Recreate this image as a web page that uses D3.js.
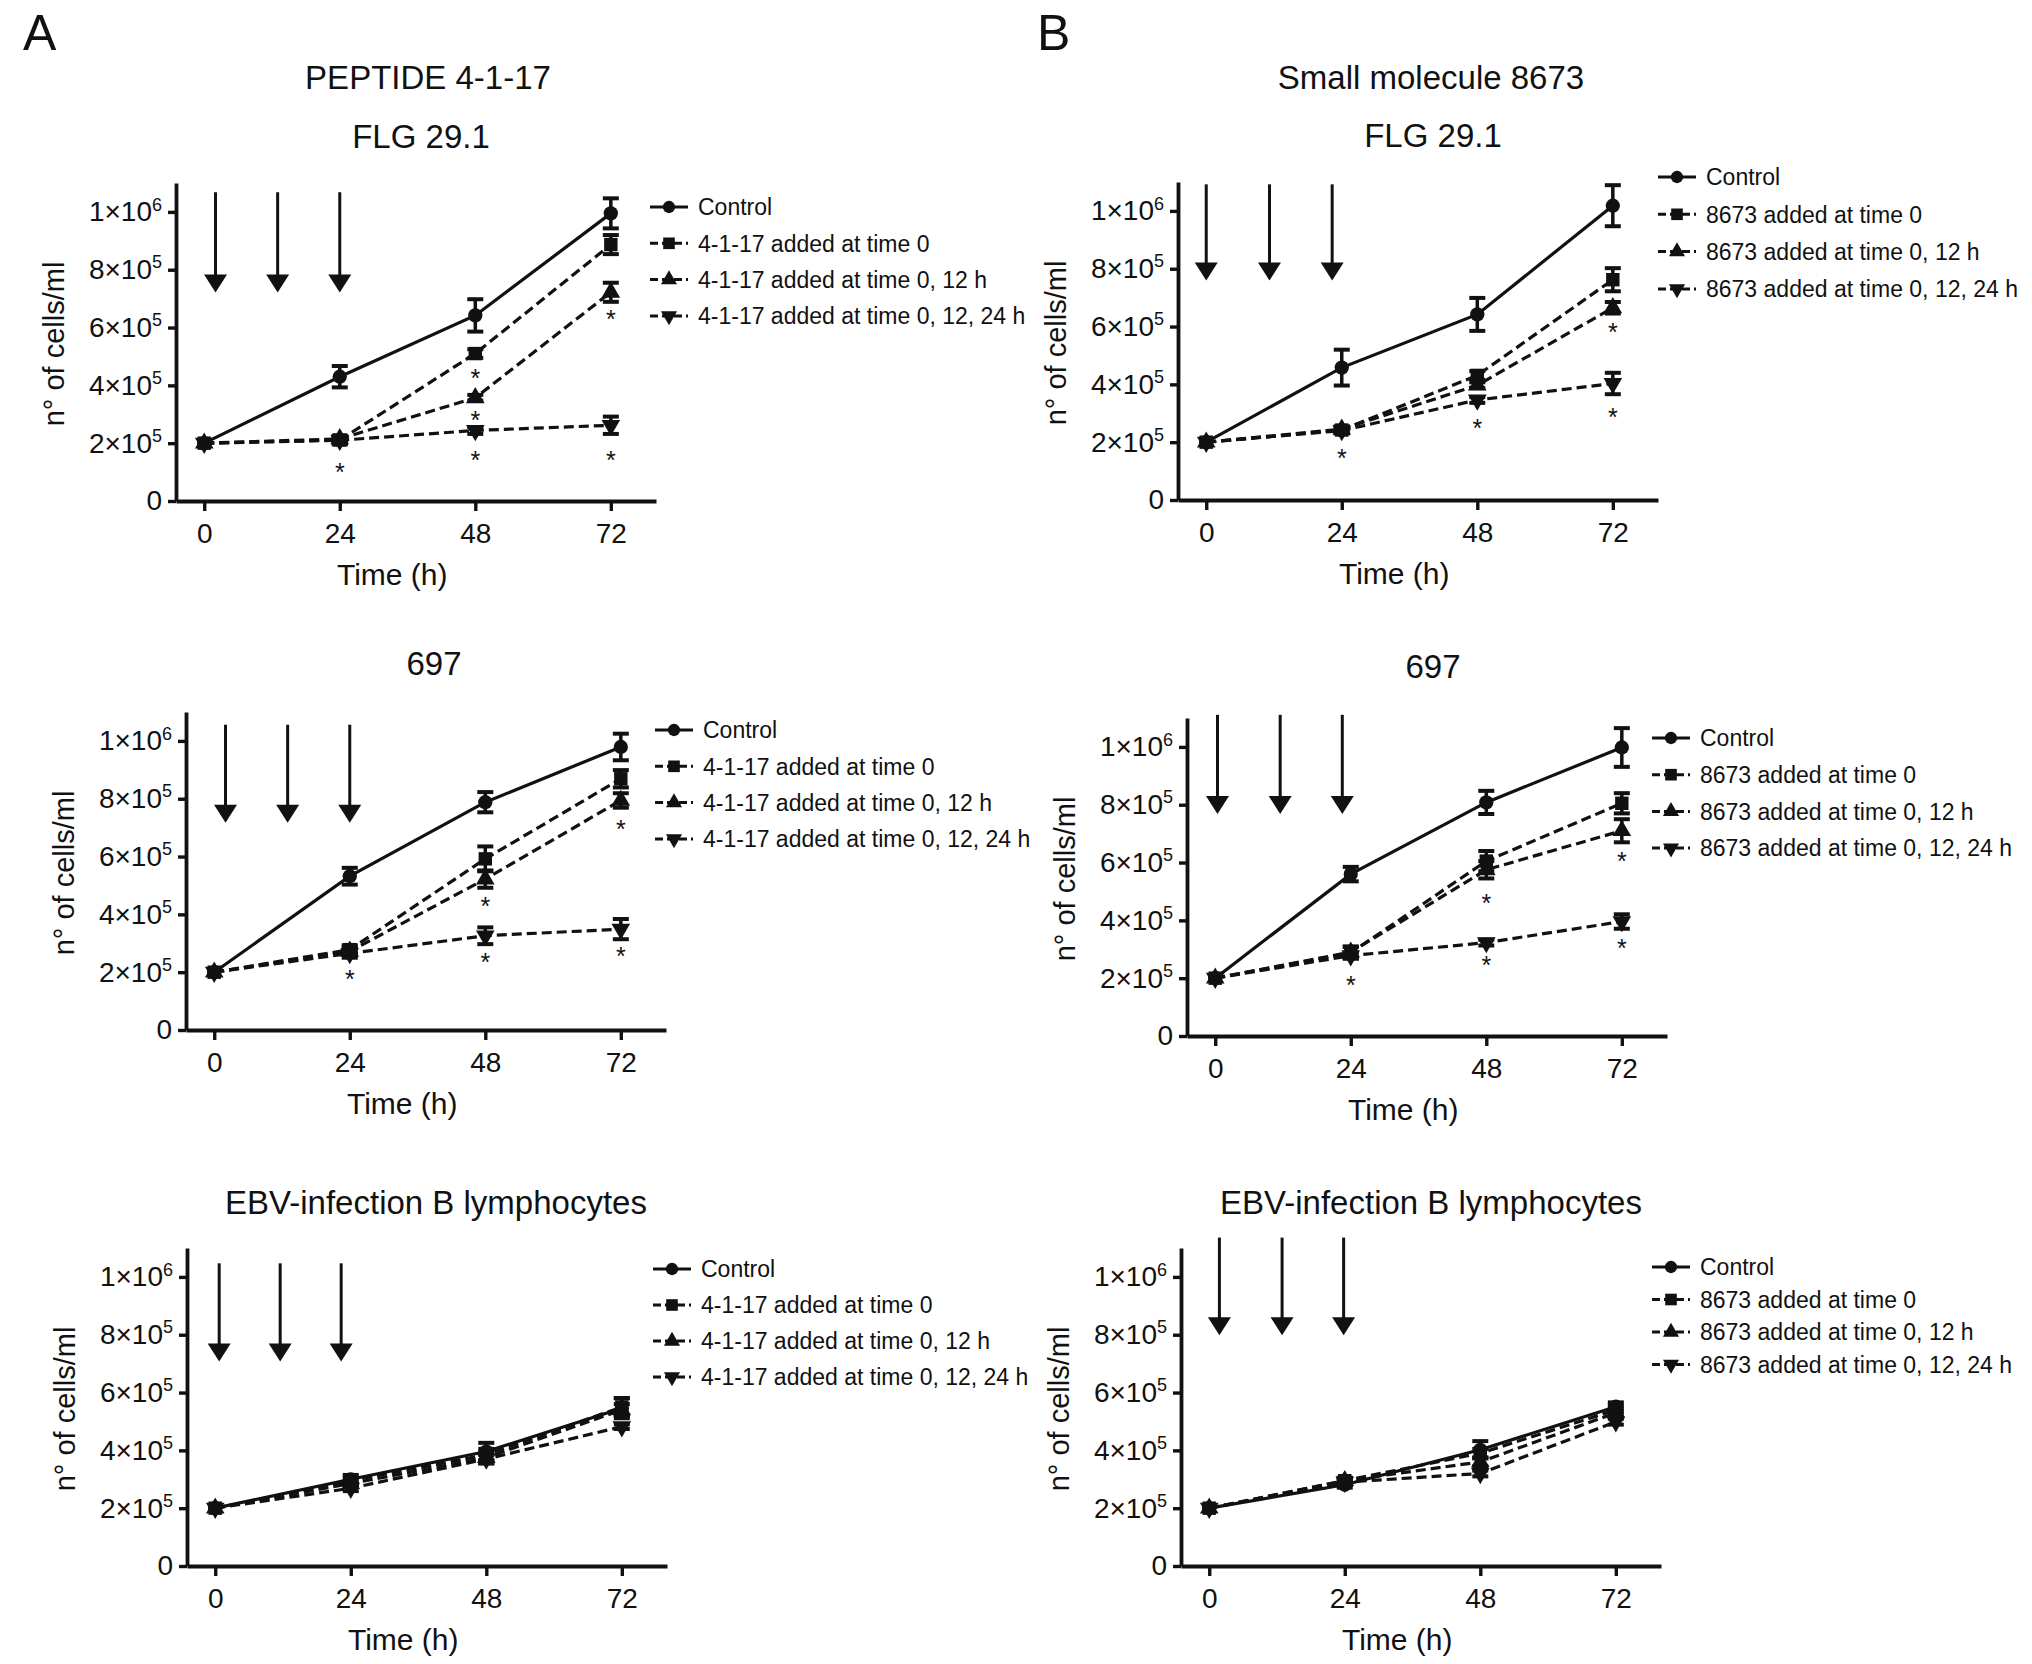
<!DOCTYPE html>
<html>
<head>
<meta charset="utf-8">
<script src="https://cdn.jsdelivr.net/npm/d3@7"></script>
<style>
  body { margin: 0; background: #fff; }
  svg { display: block; }
  text { font-family: "Liberation Sans", Arial, sans-serif; fill: #111; }
</style>
</head>
<body>
<div id="plot"></div>
<script>
// ---- data (cell counts in units of 1e5 cells/ml) ----
const hours = [0, 24, 48, 72];
const xTicks = [0, 24, 48, 72];
const yTicks = [0, 2e5, 4e5, 6e5, 8e5, 1e6];
const shapes = ["circle", "square", "triangle", "triangleDown"];
const markerOrder = [3, 2, 0, 1]; // square ends up on top, as in the figure

const peptideLegend = ["Control", "4-1-17 added at time 0", "4-1-17 added at time 0, 12 h", "4-1-17 added at time 0, 12, 24 h"];
const smallLegend = ["Control", "8673 added at time 0", "8673 added at time 0, 12 h", "8673 added at time 0, 12, 24 h"];

// A - peptide 4-1-17, FLG 29.1
const flgPeptideMean = [[2.0, 4.30, 6.42, 9.95], [2.0, 2.11, 5.10, 8.87], [2.0, 2.15, 3.57, 7.22], [2.0, 2.10, 2.44, 2.62]];
const flgPeptideErr  = [[0, 0.37, 0.56, 0.52], [0, 0.15, 0.15, 0.33], [0, 0.1, 0.1, 0.33], [0, 0.1, 0.12, 0.3]];
const flgPeptideStars = [[24, 1.18], [48, 4.43], [48, 2.98], [48, 1.60], [72, 6.48], [72, 1.60]];
// A - peptide 4-1-17, 697
const c697PeptideMean = [[2.0, 5.32, 7.88, 9.79], [2.0, 2.78, 5.92, 8.69], [2.0, 2.72, 5.22, 7.94], [2.0, 2.65, 3.26, 3.49]];
const c697PeptideErr  = [[0, 0.29, 0.35, 0.46], [0, 0.15, 0.43, 0.3], [0, 0.15, 0.3, 0.25], [0, 0.15, 0.29, 0.35]];
const c697PeptideStars = [[24, 1.92], [48, 4.47], [48, 2.51], [72, 7.13], [72, 2.74]];
// A - peptide 4-1-17, EBV B lymphocytes
const ebvPeptideMean = [[2.0, 3.00, 3.96, 5.46], [2.0, 2.95, 3.85, 5.50], [2.0, 2.85, 3.75, 5.40], [2.0, 2.69, 3.70, 4.82]];
const ebvPeptideErr  = [[0, 0.15, 0.3, 0.35], [0, 0.1, 0.2, 0.3], [0, 0.1, 0.2, 0.2], [0, 0.1, 0.15, 0.08]];
const ebvPeptideStars = [];

// B - small molecule 8673, FLG 29.1
const flgSmallMean = [[2.0, 4.58, 6.42, 10.18], [2.0, 2.42, 4.31, 7.62], [2.0, 2.45, 3.97, 6.65], [2.0, 2.40, 3.46, 4.03]];
const flgSmallErr  = [[0, 0.62, 0.57, 0.71], [0, 0.1, 0.15, 0.4], [0, 0.1, 0.1, 0.2], [0, 0.1, 0.1, 0.37]];
const flgSmallStars = [[24, 1.63], [48, 2.66], [72, 5.97], [72, 3.06]];
// B - small molecule 8673, 697
const c697SmallMean = [[2.0, 5.60, 8.08, 9.98], [2.0, 2.88, 6.05, 8.05], [2.0, 2.90, 5.75, 7.10], [2.0, 2.78, 3.23, 3.96]];
const c697SmallErr  = [[0, 0.25, 0.4, 0.67], [0, 0.2, 0.35, 0.35], [0, 0.2, 0.3, 0.4], [0, 0.1, 0.1, 0.25]];
const c697SmallStars = [[24, 1.94], [48, 4.77], [48, 2.63], [72, 6.23], [72, 3.22]];
// B - small molecule 8673, EBV B lymphocytes
const ebvSmallMean = [[2.0, 2.81, 4.02, 5.51], [2.0, 2.95, 3.90, 5.40], [2.0, 2.95, 3.60, 5.30], [2.0, 2.90, 3.20, 4.99]];
const ebvSmallErr  = [[0, 0.1, 0.3, 0.15], [0, 0.1, 0.15, 0.15], [0, 0.1, 0.15, 0.15], [0, 0.1, 0.1, 0.1]];
const ebvSmallStars = [];

// treatment arrows: hours and [top, tip] values (1e5 cells/ml)
const arrowsFlgPeptide = [2, 13, 24],     spanFlgPeptide = [10.68, 7.21];
const arrows697Peptide = [2, 13, 24],     span697Peptide = [10.56, 7.17];
const arrowsEbvPeptide = [0.7, 11.5, 22.3], spanEbvPeptide = [10.47, 7.07];
const arrowsFlgSmall = [0, 11.2, 22.3],    spanFlgSmall = [10.92, 7.59];
const arrows697Small = [0.4, 11.5, 22.5],  span697Small = [11.11, 7.68];
const arrowsEbvSmall = [1.8, 12.9, 23.8],  spanEbvSmall = [11.36, 7.98];

// ---- layout ----
var W = 2032, H = 1664;
var plotW = 480, plotH = 318;

var panels = [
  {left: 176, bottom: 501, mean: flgPeptideMean, err: flgPeptideErr, stars: flgPeptideStars,
   arrows: arrowsFlgPeptide, span: spanFlgPeptide, legend: peptideLegend,
   legX: 650, legY: 207, legStep: 36.3,
   titles: [["PEPTIDE 4-1-17", 428, 89], ["FLG 29.1", 421, 148]]},
  {left: 186, bottom: 1030, mean: c697PeptideMean, err: c697PeptideErr, stars: c697PeptideStars,
   arrows: arrows697Peptide, span: span697Peptide, legend: peptideLegend,
   legX: 655, legY: 730, legStep: 36.3,
   titles: [["697", 434, 675]]},
  {left: 187, bottom: 1566, mean: ebvPeptideMean, err: ebvPeptideErr, stars: ebvPeptideStars,
   arrows: arrowsEbvPeptide, span: spanEbvPeptide, legend: peptideLegend,
   legX: 653, legY: 1269, legStep: 36,
   titles: [["EBV-infection B lymphocytes", 436, 1214]]},
  {left: 1178, bottom: 500, mean: flgSmallMean, err: flgSmallErr, stars: flgSmallStars,
   arrows: arrowsFlgSmall, span: spanFlgSmall, legend: smallLegend,
   legX: 1658, legY: 177, legStep: 37.3,
   titles: [["Small molecule 8673", 1431, 89], ["FLG 29.1", 1433, 147]]},
  {left: 1187, bottom: 1036, mean: c697SmallMean, err: c697SmallErr, stars: c697SmallStars,
   arrows: arrows697Small, span: span697Small, legend: smallLegend,
   legX: 1652, legY: 738, legStep: 36.7,
   titles: [["697", 1433, 678]]},
  {left: 1181, bottom: 1566, mean: ebvSmallMean, err: ebvSmallErr, stars: ebvSmallStars,
   arrows: arrowsEbvSmall, span: spanEbvSmall, legend: smallLegend,
   legX: 1652, legY: 1267, legStep: 32.5,
   titles: [["EBV-infection B lymphocytes", 1431, 1214]]}
];

var svg = d3.select("div#plot")
  .append("svg")
    .attr("width", W)
    .attr("height", H);

svg.append("rect").attr("width", W).attr("height", H).attr("fill", "#fff");

// panel letters
svg.append("text").attr("x", 23).attr("y", 50).style("font-size", "50px").text("A");
svg.append("text").attr("x", 1037).attr("y", 50).style("font-size", "50px").text("B");

function symbolPath(shape, scale) {
  var s = scale || 1;
  if (shape === "circle") return d3.symbol(d3.symbolCircle, 160 * s)();
  if (shape === "square") return d3.symbol(d3.symbolSquare, 180 * s)();
  return d3.symbol(d3.symbolTriangle, 150 * s)();
}

function drawMarker(g, shape, cx, cy, scale) {
  g.append("path")
    .attr("d", symbolPath(shape, scale))
    .attr("transform", "translate(" + cx + "," + cy + ")" + (shape === "triangleDown" ? " rotate(180)" : ""))
    .attr("fill", "#111");
}

panels.forEach(function(p) {
  // titles
  p.titles.forEach(function(t) {
    svg.append("text")
      .attr("x", t[1]).attr("y", t[2])
      .attr("text-anchor", "middle")
      .style("font-size", "33px")
      .text(t[0]);
  });

  var g = svg.append("g").attr("transform", "translate(" + p.left + "," + (p.bottom - plotH) + ")");

  var x = d3.scaleLinear().domain([-5, 80]).range([0, plotW]);
  var y = d3.scaleLinear().domain([0, 1.1e6]).range([plotH, 0]);

  // axes
  var xAxis = g.append("g")
    .attr("transform", "translate(0," + plotH + ")")
    .call(d3.axisBottom(x).tickValues(xTicks).tickSize(10).tickPadding(12).tickSizeOuter(0));
  var yAxis = g.append("g")
    .call(d3.axisLeft(y).tickValues(yTicks).tickSize(8).tickPadding(6).tickSizeOuter(0));

  [xAxis, yAxis].forEach(function(a) {
    a.attr("font-family", null).attr("font-size", null);
    a.select(".domain").attr("stroke", "#111").attr("stroke-width", 3.8);
    a.selectAll(".tick line").attr("stroke", "#111").attr("stroke-width", 3.4);
    a.selectAll(".tick text").style("font-size", "28px").attr("fill", "#111");
  });

  yAxis.selectAll(".tick text").each(function(d) {
    var t = d3.select(this);
    t.text(null);
    if (d === 0) { t.text("0"); return; }
    var e = Math.floor(Math.log10(d));
    var m = Math.round(d / Math.pow(10, e));
    t.append("tspan").text(m + "\u00d710");
    t.append("tspan").attr("dy", "-0.6em").style("font-size", "18px").text(e);
  });

  // axis titles
  g.append("text")
    .attr("x", x(34) - 4).attr("y", plotH + 84)
    .attr("text-anchor", "middle")
    .style("font-size", "30px")
    .text("Time (h)");
  g.append("text")
    .attr("transform", "translate(-112," + (plotH / 2 + 2) + ") rotate(-90)")
    .attr("text-anchor", "middle")
    .style("font-size", "29px")
    .text("n\u00b0 of cells/ml");

  // treatment arrows
  p.arrows.forEach(function(h) {
    var ax = x(h), top = y(p.span[0] * 1e5), tip = y(p.span[1] * 1e5);
    g.append("line")
      .attr("x1", ax).attr("x2", ax)
      .attr("y1", top).attr("y2", tip - 14)
      .attr("stroke", "#111").attr("stroke-width", 3);
    g.append("path")
      .attr("d", "M" + (ax - 11.5) + "," + (tip - 18) + "L" + (ax + 11.5) + "," + (tip - 18) + "L" + ax + "," + tip + "Z")
      .attr("fill", "#111");
  });

  // series lines
  var line = d3.line()
    .x(function(d, i) { return x(hours[i]); })
    .y(function(d) { return y(d * 1e5); });

  p.mean.forEach(function(vals, si) {
    g.append("path")
      .datum(vals)
      .attr("d", line)
      .attr("fill", "none")
      .attr("stroke", "#111")
      .attr("stroke-width", 3.2)
      .attr("stroke-dasharray", si === 0 ? null : "10,5");
  });

  // error bars
  p.mean.forEach(function(vals, si) {
    vals.forEach(function(v, i) {
      var e = p.err[si][i];
      if (!e) return;
      var cx = x(hours[i]), y1 = y((v + e) * 1e5), y2 = y((v - e) * 1e5);
      g.append("line").attr("x1", cx).attr("x2", cx).attr("y1", y1).attr("y2", y2)
        .attr("stroke", "#111").attr("stroke-width", 3.5);
      [y1, y2].forEach(function(yy) {
        g.append("line").attr("x1", cx - 8).attr("x2", cx + 8).attr("y1", yy).attr("y2", yy)
          .attr("stroke", "#111").attr("stroke-width", 4);
      });
    });
  });

  // markers
  markerOrder.forEach(function(si) {
    p.mean[si].forEach(function(v, i) {
      drawMarker(g, shapes[si], x(hours[i]), y(v * 1e5), 1);
    });
  });

  // significance stars
  p.stars.forEach(function(s) {
    g.append("text")
      .attr("x", x(s[0])).attr("y", y(s[1] * 1e5) + 14)
      .attr("text-anchor", "middle")
      .style("font-size", "25px")
      .text("*");
  });

  // legend
  var leg = svg.append("g");
  p.legend.forEach(function(label, i) {
    var ly = p.legY + i * p.legStep;
    leg.append("line")
      .attr("x1", p.legX).attr("x2", p.legX + 38)
      .attr("y1", ly).attr("y2", ly)
      .attr("stroke", "#111").attr("stroke-width", 3)
      .attr("stroke-dasharray", i === 0 ? null : "8,4");
    drawMarker(leg, shapes[i], p.legX + 19, ly, 0.75);
    leg.append("text")
      .attr("x", p.legX + 48).attr("y", ly)
      .attr("dy", "0.36em")
      .style("font-size", "23px")
      .text(label);
  });
});
</script>
</body>
</html>
